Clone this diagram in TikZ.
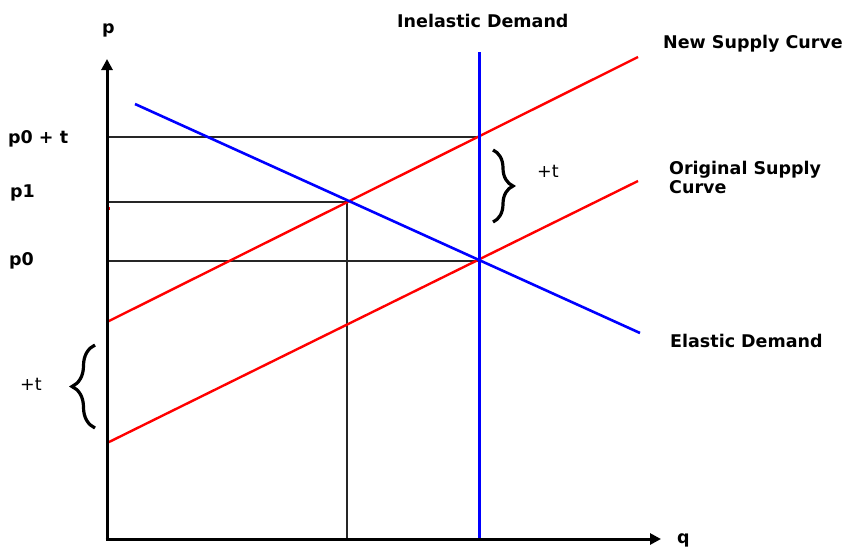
\documentclass[tikz,border=0pt]{standalone}
\usepackage{fontspec}
\setmainfont{DejaVu Sans}
\usetikzlibrary{decorations.pathreplacing,arrows.meta}
\begin{document}
\begin{tikzpicture}[x=1pt,y=-1pt,
  lbl/.style={font=\fontsize{17.5}{20}\selectfont\bfseries, inner sep=0pt, anchor=base west},
  plainlbl/.style={font=\fontsize{17.5}{20}\selectfont, inner sep=0pt, anchor=base west},
  axisline/.style={line width=3pt, -{Triangle[length=11pt,width=11pt]}},
  guide/.style={line width=1.4pt, draw=black!85},
  supply/.style={line width=2.4pt, draw=red},
  demand/.style={line width=2.6pt, draw=blue},
  bigbrace/.style={line width=3.2pt, decorate, decoration={brace, amplitude=#1}}]
\useasboundingbox (0,0) rectangle (846,547);
\fill[white] (0,0) rectangle (846,547);

% key points
\coordinate (O) at (107,539);
\coordinate (ytop) at (107,59);
\coordinate (xend) at (661,539);
\coordinate (ns0) at (107,322);
\coordinate (ns1) at (638,57);
\coordinate (os0) at (107,443);
\coordinate (os1) at (638,181);
\coordinate (ed0) at (135,104);
\coordinate (ed1) at (640,333);
\coordinate (id0) at (479,52);
\coordinate (id1) at (479,538);
\coordinate (E1) at (479,137);
\coordinate (E2) at (347,202);
\coordinate (E0) at (479,261);
\coordinate (Y1) at (107,137);
\coordinate (Y2) at (107,202);
\coordinate (Y0) at (107,261);
\coordinate (X2) at (347,539);

% guide lines
\draw[guide] (Y1) -- (E1);
\draw[guide] (Y2) -- (E2) -- (X2);
\draw[guide] (Y0) -- (E0);

% curves
\draw[supply] (ns0) -- (ns1);
\draw[supply] (os0) -- (os1);
\draw[demand] (ed0) -- (ed1);
\draw[demand, line width=3pt] (id0) -- (id1);

% stray pixels
\fill[red] (107,207) rectangle (110,210);
\fill[blue] (410,537.5) rectangle (414,540.5);

% axes
\draw[axisline] (107,540.5) -- (ytop);
\draw[axisline] (105.5,539) -- (xend);

% braces
\coordinate (rb0) at (493,150);
\coordinate (rb1) at (493,222);
\draw[bigbrace=20pt] (rb0) -- (rb1);
\coordinate (lb0) at (95,428);
\coordinate (lb1) at (95,345);
\draw[bigbrace=23pt] (lb0) -- (lb1);

% labels
\node[lbl] (plab) at (102,33) {p};
\node[lbl] (qlab) at (677,543) {q};
\node[lbl] (p0t) at (8,143) {p0 + t};
\node[lbl] (p1) at (10,197) {p1};
\node[lbl] (p0) at (9,265) {p0};
\node[plainlbl] (tleft) at (20,390) {+t};
\node[plainlbl] (tright) at (537,177) {+t};
\node[lbl] (inel) at (397,27) {Inelastic Demand};
\node[lbl] (nsc) at (663,48) {New Supply Curve};
\node[lbl] (osc1) at (669,174) {Original Supply};
\node[lbl] (osc2) at (669,193) {Curve};
\node[lbl] (edl) at (670,347) {Elastic Demand};
\end{tikzpicture}
\end{document}
